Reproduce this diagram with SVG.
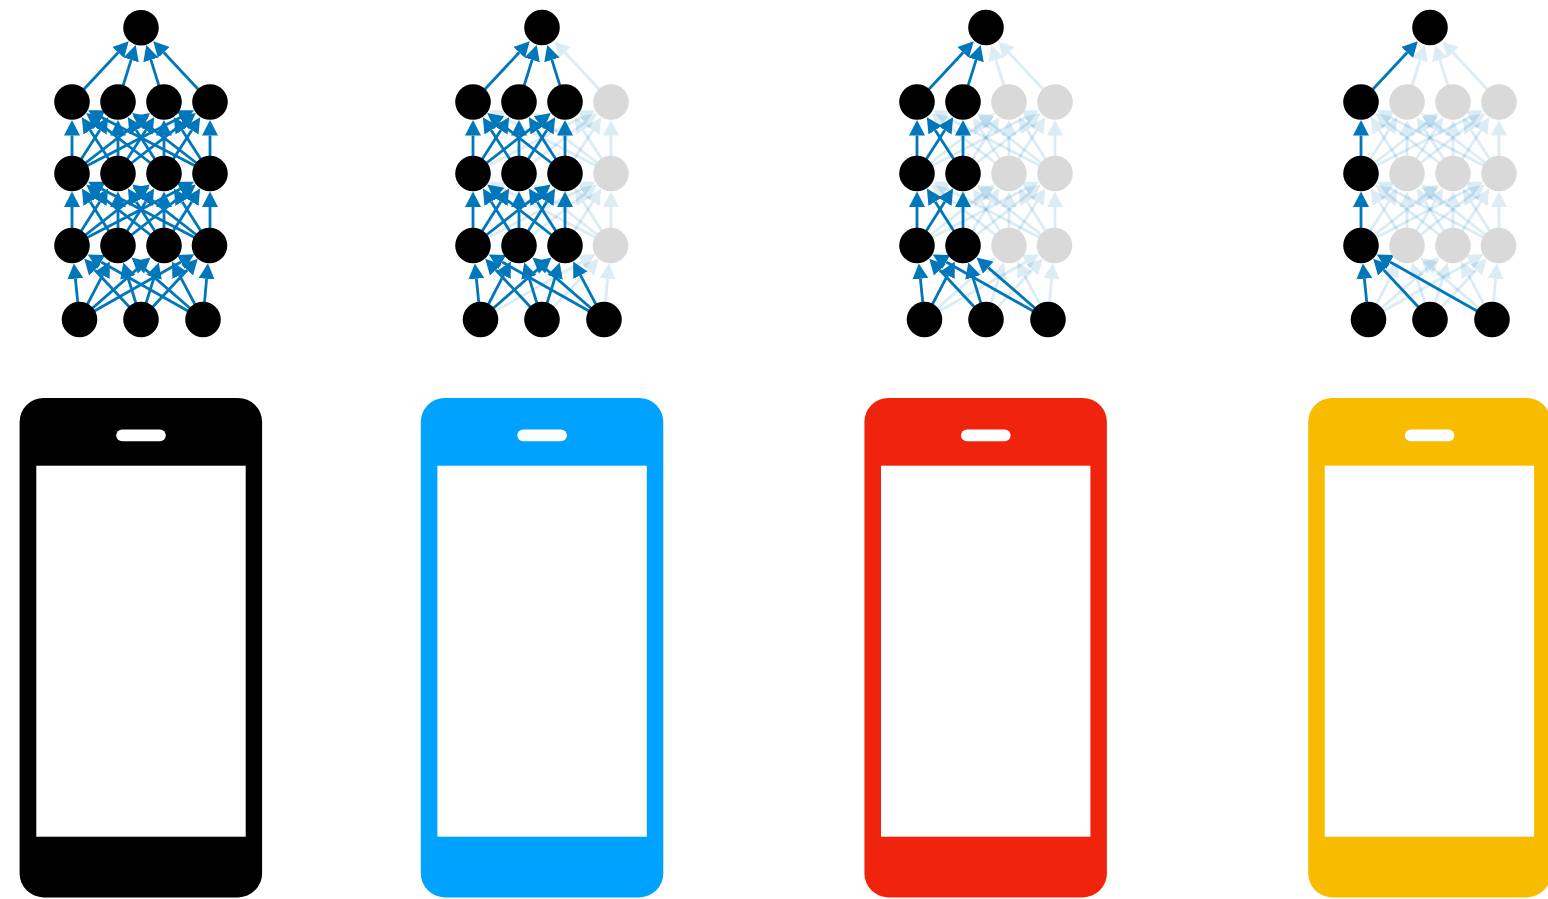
<svg xmlns="http://www.w3.org/2000/svg" width="1548" height="899" viewBox="0 0 1548 899">
<style>
.on{stroke:#0077bb;stroke-width:2.8;stroke-opacity:1;fill:none;marker-end:url(#ha)}
.off{stroke:#0077bb;stroke-width:2.8;stroke-opacity:.14;fill:none;marker-end:url(#hf)}
.k{fill:#000}
.g{fill:#d9d9d9}
.w{fill:#fff}
</style>
<defs>
<marker id="ha" markerUnits="userSpaceOnUse" markerWidth="16" markerHeight="17" refX="0" refY="8.5" orient="auto"><path d="M0,0.5L15.5,8.5L0,16.5z" fill="#0077bb"/></marker>
<marker id="hf" markerUnits="userSpaceOnUse" markerWidth="16" markerHeight="17" refX="0" refY="8.5" orient="auto"><path d="M0,0.5L15.5,8.5L0,16.5z" fill="#0077bb" fill-opacity=".14"/></marker>
<g id="e0">
<line x1="79.5" y1="319.5" x2="75.4" y2="278.8"/>
<line x1="141" y1="319.5" x2="94.8" y2="270"/>
<line x1="203" y1="319.5" x2="101.2" y2="262"/>
<line x1="72" y1="245.5" x2="72" y2="207"/>
<line x1="72" y1="173.5" x2="72" y2="135.5"/>
<line x1="72" y1="102" x2="118.2" y2="52.5"/>
</g>
<g id="e1">
<line x1="79.5" y1="319.5" x2="102.6" y2="275.2"/>
<line x1="141" y1="319.5" x2="127.9" y2="277.4"/>
<line x1="203" y1="319.5" x2="143.2" y2="267.6"/>
<line x1="72" y1="245.5" x2="99.8" y2="201.7"/>
<line x1="118" y1="245.5" x2="90.2" y2="201.7"/>
<line x1="118" y1="245.5" x2="118" y2="207"/>
<line x1="72" y1="173.5" x2="99.8" y2="130.2"/>
<line x1="118" y1="173.5" x2="90.2" y2="130.2"/>
<line x1="118" y1="173.5" x2="118" y2="135.5"/>
<line x1="118" y1="102" x2="131.1" y2="59.9"/>
</g>
<g id="e2">
<line x1="79.5" y1="319.5" x2="138.8" y2="267.6"/>
<line x1="141" y1="319.5" x2="154.1" y2="277.4"/>
<line x1="203" y1="319.5" x2="179.4" y2="275.2"/>
<line x1="72" y1="245.5" x2="137.6" y2="194.1"/>
<line x1="118" y1="245.5" x2="145.8" y2="201.7"/>
<line x1="164" y1="245.5" x2="98.4" y2="194.1"/>
<line x1="164" y1="245.5" x2="136.2" y2="201.7"/>
<line x1="164" y1="245.5" x2="164" y2="207"/>
<line x1="72" y1="173.5" x2="137.6" y2="122.6"/>
<line x1="118" y1="173.5" x2="145.8" y2="130.2"/>
<line x1="164" y1="173.5" x2="98.4" y2="122.6"/>
<line x1="164" y1="173.5" x2="136.2" y2="130.2"/>
<line x1="164" y1="173.5" x2="164" y2="135.5"/>
<line x1="164" y1="102" x2="150.9" y2="59.9"/>
</g>
<g id="e3">
<line x1="79.5" y1="319.5" x2="180.8" y2="262"/>
<line x1="141" y1="319.5" x2="187.2" y2="270"/>
<line x1="203" y1="319.5" x2="206.6" y2="278.8"/>
<line x1="72" y1="245.5" x2="180.2" y2="188.9"/>
<line x1="118" y1="245.5" x2="183.6" y2="194.1"/>
<line x1="164" y1="245.5" x2="191.8" y2="201.7"/>
<line x1="210" y1="245.5" x2="101.8" y2="188.9"/>
<line x1="210" y1="245.5" x2="144.4" y2="194.1"/>
<line x1="210" y1="245.5" x2="182.2" y2="201.7"/>
<line x1="210" y1="245.5" x2="210" y2="207"/>
<line x1="72" y1="173.5" x2="180.2" y2="117.4"/>
<line x1="118" y1="173.5" x2="183.6" y2="122.6"/>
<line x1="164" y1="173.5" x2="191.8" y2="130.2"/>
<line x1="210" y1="173.5" x2="101.8" y2="117.4"/>
<line x1="210" y1="173.5" x2="144.4" y2="122.6"/>
<line x1="210" y1="173.5" x2="182.2" y2="130.2"/>
<line x1="210" y1="173.5" x2="210" y2="135.5"/>
<line x1="210" y1="102" x2="163.8" y2="52.5"/>
</g>
</defs>
<g id="connectors">
<g id="net1-edges" transform="translate(0 0)">
<use href="#e3" class="on"/><use href="#e2" class="on"/><use href="#e1" class="on"/><use href="#e0" class="on"/>
</g>
<g id="net2-edges" transform="translate(401 0)">
<use href="#e3" class="off"/><use href="#e2" class="on"/><use href="#e1" class="on"/><use href="#e0" class="on"/>
</g>
<g id="net3-edges" transform="translate(845 0)">
<use href="#e3" class="off"/><use href="#e2" class="off"/><use href="#e1" class="on"/><use href="#e0" class="on"/>
</g>
<g id="net4-edges" transform="translate(1289 0)">
<use href="#e3" class="off"/><use href="#e2" class="off"/><use href="#e1" class="off"/><use href="#e0" class="on"/>
</g>
</g>
<g id="net1-top"><circle class="k" cx="141" cy="27.7" r="17.8"/></g>
<g id="net1-a0"><circle class="k" cx="72" cy="102" r="17.8"/></g>
<g id="net1-a1"><circle class="k" cx="118" cy="102" r="17.8"/></g>
<g id="net1-a2"><circle class="k" cx="164" cy="102" r="17.8"/></g>
<g id="net1-a3"><circle class="k" cx="210" cy="102" r="17.8"/></g>
<g id="net1-b0"><circle class="k" cx="72" cy="173.5" r="17.8"/></g>
<g id="net1-b1"><circle class="k" cx="118" cy="173.5" r="17.8"/></g>
<g id="net1-b2"><circle class="k" cx="164" cy="173.5" r="17.8"/></g>
<g id="net1-b3"><circle class="k" cx="210" cy="173.5" r="17.8"/></g>
<g id="net1-c0"><circle class="k" cx="72" cy="245.5" r="17.8"/></g>
<g id="net1-c1"><circle class="k" cx="118" cy="245.5" r="17.8"/></g>
<g id="net1-c2"><circle class="k" cx="164" cy="245.5" r="17.8"/></g>
<g id="net1-c3"><circle class="k" cx="209.5" cy="245.5" r="17.8"/></g>
<g id="net1-d0"><circle class="k" cx="79.5" cy="319.5" r="17.8"/></g>
<g id="net1-d1"><circle class="k" cx="141" cy="319.5" r="17.8"/></g>
<g id="net1-d2"><circle class="k" cx="203" cy="319.5" r="17.8"/></g>
<g id="net2-top"><circle class="k" cx="542" cy="27.5" r="17.8"/></g>
<g id="net2-a0"><circle class="k" cx="473" cy="102" r="17.8"/></g>
<g id="net2-a1"><circle class="k" cx="519" cy="102" r="17.8"/></g>
<g id="net2-a2"><circle class="k" cx="565" cy="102" r="17.8"/></g>
<g id="net2-a3"><circle class="g" cx="611" cy="102" r="17.8"/></g>
<g id="net2-b0"><circle class="k" cx="473" cy="173.5" r="17.8"/></g>
<g id="net2-b1"><circle class="k" cx="519" cy="173.5" r="17.8"/></g>
<g id="net2-b2"><circle class="k" cx="565" cy="173.5" r="17.8"/></g>
<g id="net2-b3"><circle class="g" cx="611" cy="173.5" r="17.8"/></g>
<g id="net2-c0"><circle class="k" cx="473" cy="245.5" r="17.8"/></g>
<g id="net2-c1"><circle class="k" cx="519" cy="245.5" r="17.8"/></g>
<g id="net2-c2"><circle class="k" cx="565" cy="245.5" r="17.8"/></g>
<g id="net2-c3"><circle class="g" cx="610.5" cy="245.5" r="17.8"/></g>
<g id="net2-d0"><circle class="k" cx="480.5" cy="319.5" r="17.8"/></g>
<g id="net2-d1"><circle class="k" cx="542" cy="319.5" r="17.8"/></g>
<g id="net2-d2"><circle class="k" cx="604" cy="319.5" r="17.8"/></g>
<g id="net3-top"><circle class="k" cx="986" cy="27.5" r="17.8"/></g>
<g id="net3-a0"><circle class="k" cx="917" cy="102" r="17.8"/></g>
<g id="net3-a1"><circle class="k" cx="963" cy="102" r="17.8"/></g>
<g id="net3-a2"><circle class="g" cx="1009" cy="102" r="17.8"/></g>
<g id="net3-a3"><circle class="g" cx="1055" cy="102" r="17.8"/></g>
<g id="net3-b0"><circle class="k" cx="917" cy="173.5" r="17.8"/></g>
<g id="net3-b1"><circle class="k" cx="963" cy="173.5" r="17.8"/></g>
<g id="net3-b2"><circle class="g" cx="1009" cy="173.5" r="17.8"/></g>
<g id="net3-b3"><circle class="g" cx="1055" cy="173.5" r="17.8"/></g>
<g id="net3-c0"><circle class="k" cx="917" cy="245.5" r="17.8"/></g>
<g id="net3-c1"><circle class="k" cx="963" cy="245.5" r="17.8"/></g>
<g id="net3-c2"><circle class="g" cx="1009" cy="245.5" r="17.8"/></g>
<g id="net3-c3"><circle class="g" cx="1054.5" cy="245.5" r="17.8"/></g>
<g id="net3-d0"><circle class="k" cx="924.5" cy="319.5" r="17.8"/></g>
<g id="net3-d1"><circle class="k" cx="986" cy="319.5" r="17.8"/></g>
<g id="net3-d2"><circle class="k" cx="1048" cy="319.5" r="17.8"/></g>
<g id="net4-top"><circle class="k" cx="1430" cy="27.5" r="17.8"/></g>
<g id="net4-a0"><circle class="k" cx="1361" cy="102" r="17.8"/></g>
<g id="net4-a1"><circle class="g" cx="1407" cy="102" r="17.8"/></g>
<g id="net4-a2"><circle class="g" cx="1453" cy="102" r="17.8"/></g>
<g id="net4-a3"><circle class="g" cx="1499" cy="102" r="17.8"/></g>
<g id="net4-b0"><circle class="k" cx="1361" cy="173.5" r="17.8"/></g>
<g id="net4-b1"><circle class="g" cx="1407" cy="173.5" r="17.8"/></g>
<g id="net4-b2"><circle class="g" cx="1453" cy="173.5" r="17.8"/></g>
<g id="net4-b3"><circle class="g" cx="1499" cy="173.5" r="17.8"/></g>
<g id="net4-c0"><circle class="k" cx="1361" cy="245.5" r="17.8"/></g>
<g id="net4-c1"><circle class="g" cx="1407" cy="245.5" r="17.8"/></g>
<g id="net4-c2"><circle class="g" cx="1453" cy="245.5" r="17.8"/></g>
<g id="net4-c3"><circle class="g" cx="1498.5" cy="245.5" r="17.8"/></g>
<g id="net4-d0"><circle class="k" cx="1368.5" cy="319.5" r="17.8"/></g>
<g id="net4-d1"><circle class="k" cx="1430" cy="319.5" r="17.8"/></g>
<g id="net4-d2"><circle class="k" cx="1492" cy="319.5" r="17.8"/></g>
<g id="phone1"><rect x="19.6" y="398" width="242.5" height="499.4" rx="24" fill="#000"/><rect class="w" x="36.3" y="465.7" width="209.4" height="371"/><rect class="w" x="116.2" y="429.4" width="49.6" height="11.8" rx="5.9"/></g>
<g id="phone2"><rect x="420.8" y="398" width="242.5" height="499.4" rx="24" fill="#00a2ff"/><rect class="w" x="437.4" y="465.7" width="209.4" height="371"/><rect class="w" x="517.3" y="429.4" width="49.6" height="11.8" rx="5.9"/></g>
<g id="phone3"><rect x="864.4" y="398" width="242.5" height="499.4" rx="24" fill="#f0230c"/><rect class="w" x="881" y="465.7" width="209.4" height="371"/><rect class="w" x="961" y="429.4" width="49.6" height="11.8" rx="5.9"/></g>
<g id="phone4"><rect x="1308.2" y="398" width="242.5" height="499.4" rx="24" fill="#f7bb00"/><rect class="w" x="1324.7" y="465.7" width="209.4" height="371"/><rect class="w" x="1404.8" y="429.4" width="49.6" height="11.8" rx="5.9"/></g>
</svg>
